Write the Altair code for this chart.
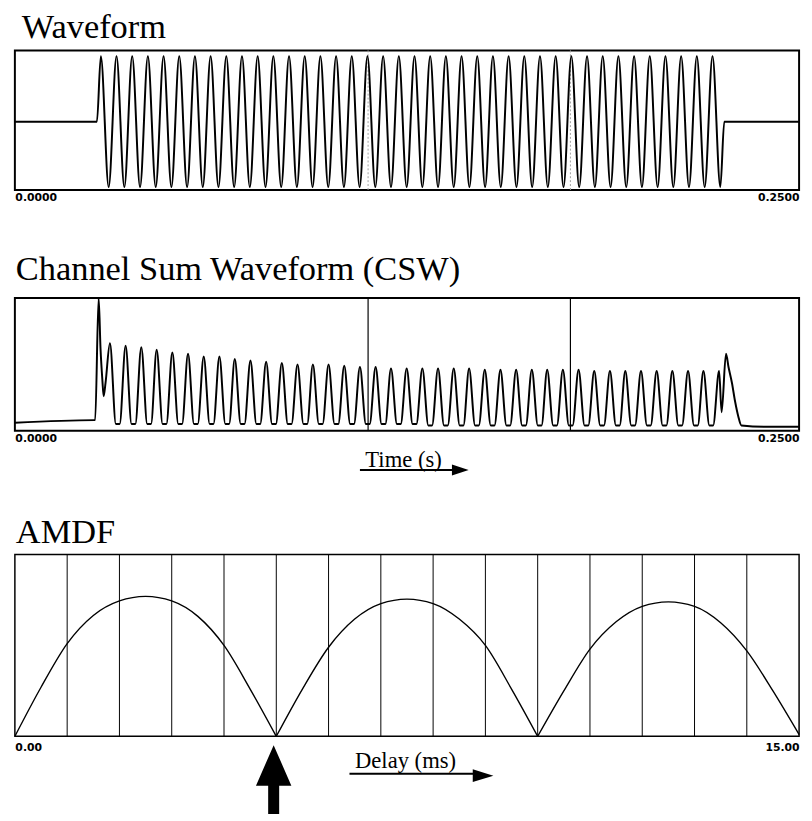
import altair as alt
import pandas as pd

# ---------------- Waveform (input tone), times in ms ----------------
wave_edge_ms = [0.0, 26.15, 226.15, 250.0]
wave_edge_v = [0.0, 0.0, 0.0, 0.0]
wave_peak_ms = [27.4, 32.4, 37.4, 42.4, 47.4, 52.4, 57.4, 62.4, 67.4, 72.4,
                77.4, 82.4, 87.4, 92.4, 97.4, 102.4, 107.4, 112.4, 117.4, 122.4,
                127.4, 132.4, 137.4, 142.4, 147.4, 152.4, 157.4, 162.4, 167.4, 172.4,
                177.4, 182.4, 187.4, 192.4, 197.4, 202.4, 207.4, 212.4, 217.4, 222.4]
wave_peak_v = [1.0, 1.0, 1.0, 1.0, 1.0, 1.0, 1.0, 1.0, 1.0, 1.0,
               1.0, 1.0, 1.0, 1.0, 1.0, 1.0, 1.0, 1.0, 1.0, 1.0,
               1.0, 1.0, 1.0, 1.0, 1.0, 1.0, 1.0, 1.0, 1.0, 1.0,
               1.0, 1.0, 1.0, 1.0, 1.0, 1.0, 1.0, 1.0, 1.0, 1.0]
wave_trough_ms = [29.9, 34.9, 39.9, 44.9, 49.9, 54.9, 59.9, 64.9, 69.9, 74.9,
                  79.9, 84.9, 89.9, 94.9, 99.9, 104.9, 109.9, 114.9, 119.9, 124.9,
                  129.9, 134.9, 139.9, 144.9, 149.9, 154.9, 159.9, 164.9, 169.9, 174.9,
                  179.9, 184.9, 189.9, 194.9, 199.9, 204.9, 209.9, 214.9, 219.9, 224.9]
wave_trough_v = [-1.0, -1.0, -1.0, -1.0, -1.0, -1.0, -1.0, -1.0, -1.0, -1.0,
                 -1.0, -1.0, -1.0, -1.0, -1.0, -1.0, -1.0, -1.0, -1.0, -1.0,
                 -1.0, -1.0, -1.0, -1.0, -1.0, -1.0, -1.0, -1.0, -1.0, -1.0,
                 -1.0, -1.0, -1.0, -1.0, -1.0, -1.0, -1.0, -1.0, -1.0, -1.0]

# ---------------- Channel Sum Waveform, times in ms ----------------
csw_onset_ms = [0.0, 25.3, 25.6, 26.7, 27.3, 27.9, 28.3, 28.9]
csw_onset_v = [0.06, 0.08, 0.08, 1.0, 0.62, 0.38, 0.26, 0.36]
csw_peak_ms = [30.3, 35.3, 40.3, 45.2, 50.2, 55.2, 60.2, 65.2, 70.1, 75.1,
               80.1, 85.1, 90.1, 95.0, 100.0, 105.0, 110.0, 115.0, 119.9, 124.9,
               129.9, 134.9, 139.9, 144.8, 149.8, 154.8, 159.8, 164.8, 169.7, 174.7,
               179.7, 184.7, 189.7, 194.6, 199.6, 204.6, 209.6, 214.6, 219.5, 224.5]
csw_peak_v = [0.66, 0.64, 0.63, 0.61, 0.59, 0.58, 0.56, 0.56, 0.54, 0.53,
              0.52, 0.51, 0.50, 0.50, 0.50, 0.49, 0.48, 0.48, 0.47, 0.47,
              0.47, 0.47, 0.47, 0.47, 0.46, 0.46, 0.46, 0.46, 0.46, 0.46,
              0.46, 0.45, 0.45, 0.45, 0.45, 0.45, 0.45, 0.45, 0.45, 0.45]
csw_trough_a_ms = [32.2, 37.2, 42.2, 47.1, 52.1, 57.1, 62.1, 67.1, 72.0, 77.0,
                   82.0, 87.0, 92.0, 96.9, 101.9, 106.9, 111.9, 116.9, 121.8, 126.8,
                   131.8, 136.8, 141.8, 146.7, 151.7, 156.7, 161.7, 166.7, 171.6, 176.6,
                   181.6, 186.6, 191.6, 196.5, 201.5, 206.5, 211.5, 216.5, 221.4]
csw_trough_b_ms = [33.4, 38.4, 43.4, 48.3, 53.3, 58.3, 63.3, 68.3, 73.2, 78.2,
                   83.2, 88.2, 93.2, 98.1, 103.1, 108.1, 113.1, 118.1, 123.0, 128.0,
                   133.0, 138.0, 143.0, 147.9, 152.9, 157.9, 162.9, 167.9, 172.8, 177.8,
                   182.8, 187.8, 192.8, 197.7, 202.7, 207.7, 212.7, 217.7, 222.6]
csw_trough_v = [0.05, 0.05, 0.05, 0.05, 0.05, 0.05, 0.05, 0.05, 0.05, 0.05,
                0.05, 0.05, 0.05, 0.05, 0.05, 0.05, 0.05, 0.05, 0.05, 0.05,
                0.04, 0.04, 0.04, 0.04, 0.04, 0.04, 0.04, 0.04, 0.04, 0.04,
                0.04, 0.04, 0.04, 0.04, 0.04, 0.04, 0.04, 0.04, 0.04]
csw_offset_ms = [225.3, 226.7, 227.5, 228.6, 229.6, 230.6, 231.6, 240.0, 250.0]
csw_offset_v = [0.14, 0.58, 0.48, 0.36, 0.22, 0.11, 0.04, 0.03, 0.03]

# segment markers (ms)
marker_ms = [112.6, 177.1]

# ---------------- AMDF, delay in ms ----------------
amdf_ms = [0.0, 0.5, 1.0, 1.5, 2.0, 2.5, 3.0, 3.5, 4.0, 4.5, 5.0,
           5.5, 6.0, 6.5, 7.0, 7.5, 8.0, 8.5, 9.0, 9.5, 10.0,
           10.5, 11.0, 11.5, 12.0, 12.5, 13.0, 13.5, 14.0, 14.5, 15.0]
amdf_val = [0.0, 0.27, 0.51, 0.665, 0.745, 0.77, 0.745, 0.66, 0.50, 0.26, 0.0,
            0.26, 0.49, 0.645, 0.73, 0.755, 0.73, 0.645, 0.50, 0.26, 0.0,
            0.25, 0.48, 0.63, 0.715, 0.74, 0.715, 0.625, 0.47, 0.25, 0.01]
amdf_hump_idx = [(0, 10), (10, 20), (20, 30)]
amdf_grid_ms = [1, 2, 3, 4, 5, 6, 7, 8, 9, 10, 11, 12, 13, 14]
pitch_arrow_ms = 4.95

# ---------------- tables ----------------
wave_df = pd.DataFrame({
    "t": [m / 1000 for m in wave_edge_ms + wave_peak_ms + wave_trough_ms],
    "v": wave_edge_v + wave_peak_v + wave_trough_v,
}).sort_values("t")

csw_df = pd.DataFrame({
    "t": [m / 1000 for m in csw_onset_ms + csw_peak_ms + csw_trough_a_ms + csw_trough_b_ms + csw_offset_ms],
    "v": csw_onset_v + csw_peak_v + csw_trough_v + csw_trough_v + csw_offset_v,
}).sort_values("t")

marker_df = pd.DataFrame({"t": [m / 1000 for m in marker_ms]})

amdf_rows = []
for h, (i0, i1) in enumerate(amdf_hump_idx):
    for i in range(i0, i1 + 1):
        amdf_rows.append({"d": amdf_ms[i], "v": amdf_val[i], "hump": h})
amdf_df = pd.DataFrame(amdf_rows)
grid_df = pd.DataFrame({"d": amdf_grid_ms})

# annotation anchors (data coordinates)
time_ul_df = pd.DataFrame({"t": [0.1100], "t2": [0.1401]})
time_head_df = pd.DataFrame({"t": [0.1420]})
delay_ul_df = pd.DataFrame({"d": [6.40], "d2": [8.80]})
delay_head_df = pd.DataFrame({"d": [8.955]})
pitch_df = pd.DataFrame({"d": [pitch_arrow_ms]})

# ---------------- styling ----------------
SERIF = "Liberation Serif"
W_TOP, W_AMDF = 798, 798


def time_axis(title=None, title_x=None, title_y=None):
    kw = dict(values=[0, 0.25], format=".4f", labelFlush=True, grid=False, ticks=False,
              domain=False, labelFont="DejaVu Sans", labelFontWeight="bold",
              labelFontSize=11, labelColor="black", labelPadding=2)
    if title is None:
        kw["title"] = None
    else:
        kw.update(title=title, titleFont=SERIF, titleFontSize=23, titleFontWeight="normal",
                  titleColor="black", titleBaseline="alphabetic", titleX=title_x, titleY=title_y)
    return alt.Axis(**kw)


time_scale = alt.Scale(domain=[0, 0.25], nice=False, zero=False)


def panel_title(text, offset, dx):
    return alt.TitleParams(text, anchor="start", frame="group", font=SERIF, fontSize=35,
                           fontWeight="normal", color="black", offset=offset, dx=dx)


# ---------------- panel 1: Waveform ----------------
ax1 = time_axis()
wave_line = alt.Chart(wave_df).mark_line(color="black", strokeWidth=2, interpolate="monotone").encode(
    x=alt.X("t:Q", scale=time_scale, axis=ax1),
    y=alt.Y("v:Q", scale=alt.Scale(domain=[-1.045, 1.09], nice=False, zero=False), axis=None),
)
wave_mark = alt.Chart(marker_df).mark_rule(color="#a0a0a0", strokeWidth=1, strokeDash=[2, 2]).encode(
    x=alt.X("t:Q", scale=time_scale, axis=ax1)
)
p1 = alt.layer(wave_mark, wave_line).properties(
    width=W_TOP, height=142, title=panel_title("Waveform", 5, 7)
)

# ---------------- panel 2: CSW ----------------
ax2 = time_axis("Time (s)", 395, 36)
csw_line = alt.Chart(csw_df).mark_line(color="black", strokeWidth=2, interpolate="monotone").encode(
    x=alt.X("t:Q", scale=time_scale, axis=ax2),
    y=alt.Y("v:Q", scale=alt.Scale(domain=[0, 1.0], nice=False, zero=False), axis=None),
)
csw_mark = alt.Chart(marker_df).mark_rule(color="black", strokeWidth=1.2).encode(
    x=alt.X("t:Q", scale=time_scale, axis=ax2)
)
time_ul = alt.Chart(time_ul_df).mark_rule(color="black", strokeWidth=2, clip=False).encode(
    x=alt.X("t:Q", scale=time_scale, axis=ax2), x2="t2:Q", y=alt.value(175)
)
time_head = alt.Chart(time_head_df).mark_point(
    shape="M-1,-0.65L1,0L-1,0.65Z", filled=True, color="black", opacity=1, size=289, clip=False
).encode(x=alt.X("t:Q", scale=time_scale, axis=ax2), y=alt.value(175))
p2 = alt.layer(csw_mark, csw_line, time_ul, time_head).properties(
    width=W_TOP, height=135, title=panel_title("Channel Sum Waveform (CSW)", 7, 1)
)

# ---------------- panel 3: AMDF ----------------
delay_scale = alt.Scale(domain=[0, 15], nice=False, zero=False)
ax3 = alt.Axis(values=[0, 15], format=".2f", labelFlush=True, grid=False, ticks=False, domain=False,
               labelFont="DejaVu Sans", labelFontWeight="bold", labelFontSize=11, labelColor="black",
               labelPadding=5, title="Delay (ms)", titleFont=SERIF, titleFontSize=23,
               titleFontWeight="normal", titleColor="black", titleBaseline="alphabetic",
               titleX=397, titleY=32)
grid = alt.Chart(grid_df).mark_rule(color="black", strokeWidth=1).encode(
    x=alt.X("d:Q", scale=delay_scale, axis=ax3)
)
amdf_line = alt.Chart(amdf_df).mark_line(color="black", strokeWidth=1.4, interpolate="monotone").encode(
    x=alt.X("d:Q", scale=delay_scale, axis=ax3),
    y=alt.Y("v:Q", scale=alt.Scale(domain=[0, 1], nice=False, zero=False), axis=None),
    detail="hump:N",
)
delay_ul = alt.Chart(delay_ul_df).mark_rule(color="black", strokeWidth=2, clip=False).encode(
    x=alt.X("d:Q", scale=delay_scale, axis=ax3), x2="d2:Q", y=alt.value(223)
)
delay_head = alt.Chart(delay_head_df).mark_point(
    shape="M-1,-0.62L1,0L-1,0.62Z", filled=True, color="black", opacity=1, size=441, clip=False
).encode(x=alt.X("d:Q", scale=delay_scale, axis=ax3), y=alt.value(225))
pitch_arrow = alt.Chart(pitch_df).mark_point(
    shape="M0,-1L0.45,0.03L0.14,0.03L0.14,0.75L-0.14,0.75L-0.14,0.03L-0.45,0.03Z",
    filled=True, color="black", opacity=1, size=6400, clip=False
).encode(x=alt.X("d:Q", scale=delay_scale, axis=ax3), y=alt.value(234))
p3 = alt.layer(grid, amdf_line, delay_ul, delay_head, pitch_arrow).properties(
    width=W_AMDF, height=185, title=panel_title("AMDF", 4, 1),
    view=alt.ViewBackground(stroke="black", strokeWidth=1.5),
)

chart = alt.vconcat(
    alt.vconcat(p1, p2, spacing=49),
    p3,
    spacing=38,
).properties(
    padding={"left": 2, "top": -6, "right": 0, "bottom": 0},
    background="white",
).configure_view(stroke="black", strokeWidth=2)

chart.save("out.html", embed_options={"renderer": "svg", "actions": False})
